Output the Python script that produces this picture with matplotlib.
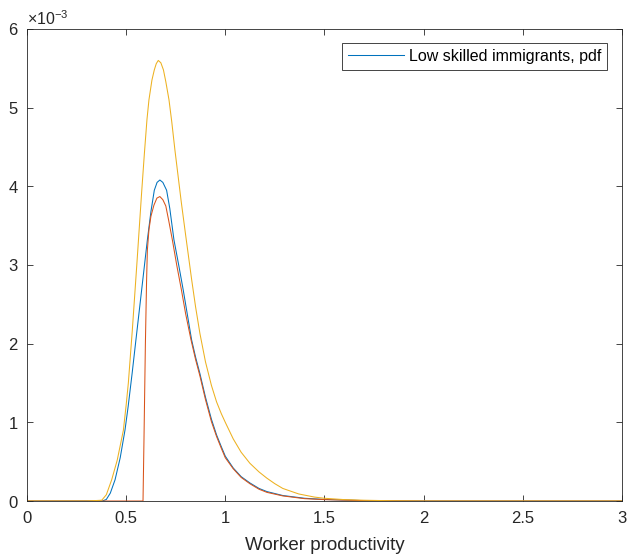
import matplotlib
matplotlib.use("Agg")
from matplotlib import pyplot as plt

plt.rcParams['font.family'] = ['Liberation Sans', 'DejaVu Sans']
plt.rcParams['mathtext.fontset'] = 'custom'
plt.rcParams['mathtext.rm'] = 'Liberation Sans'
plt.rcParams['mathtext.it'] = 'Liberation Sans'

# worker productivity and densities (units of 1e-3)
x_low = [0.0, 0.30, 0.38, 0.40, 0.42, 0.444, 0.47, 0.494, 0.51, 0.53, 0.548, 0.578,
         0.607, 0.625, 0.642, 0.656, 0.67, 0.685, 0.704, 0.72, 0.741, 0.765, 0.788,
         0.81, 0.83, 0.85, 0.872, 0.90, 0.93, 0.956, 0.98, 1.0, 1.04, 1.08, 1.124,
         1.17, 1.21, 1.29, 1.40, 1.5, 1.7, 2.0, 3.0]
y_low = [0.0, 0.0, 0.0, 0.02, 0.10, 0.27, 0.55, 0.90, 1.20, 1.62, 2.02, 2.68,
         3.32, 3.68, 3.95, 4.05, 4.08, 4.05, 3.95, 3.72, 3.32, 3.00, 2.68,
         2.35, 2.05, 1.83, 1.62, 1.32, 1.04, 0.84, 0.69, 0.57, 0.42, 0.31, 0.23,
         0.16, 0.12, 0.07, 0.035, 0.02, 0.005, 0.0, 0.0]

x_red = [0.0, 0.585, 0.59, 0.597, 0.603, 0.607, 0.615, 0.625, 0.64, 0.655, 0.67,
         0.685, 0.70, 0.715, 0.733, 0.755, 0.779, 0.80, 0.827, 0.85, 0.872, 0.90,
         0.93, 0.956, 0.98, 1.0, 1.04, 1.08, 1.124, 1.17, 1.21, 1.29, 1.4, 1.5,
         1.7, 2.0, 3.0]
y_red = [0.0, 0.0, 0.8, 2.0, 2.8, 3.19, 3.45, 3.62, 3.76, 3.85, 3.87,
         3.83, 3.75, 3.56, 3.32, 3.00, 2.68, 2.38, 2.05, 1.80, 1.59, 1.29,
         1.01, 0.82, 0.67, 0.55, 0.41, 0.30, 0.22, 0.15, 0.11, 0.065, 0.03, 0.018,
         0.005, 0.0, 0.0]

x_yel = [0.0, 0.30, 0.377, 0.40, 0.427, 0.455, 0.486, 0.50, 0.511, 0.531, 0.555,
         0.578, 0.592, 0.605, 0.615, 0.63, 0.642, 0.652, 0.662, 0.675, 0.688, 0.70,
         0.716, 0.73, 0.746, 0.762, 0.778, 0.80, 0.83, 0.85, 0.872, 0.90, 0.93,
         0.956, 0.98, 1.0, 1.04, 1.08, 1.124, 1.17, 1.21, 1.25, 1.29, 1.37, 1.45,
         1.5, 1.6, 1.7, 1.85, 2.0, 3.0]
y_yel = [0.0, 0.0, 0.01, 0.08, 0.27, 0.52, 0.90, 1.22, 1.50, 2.17, 3.05,
         3.92, 4.42, 4.85, 5.10, 5.35, 5.48, 5.56, 5.60, 5.57, 5.48, 5.33,
         5.10, 4.82, 4.46, 4.13, 3.80, 3.38, 2.82, 2.47, 2.13, 1.77, 1.47,
         1.26, 1.11, 1.00, 0.79, 0.62, 0.48, 0.37, 0.29, 0.22, 0.16, 0.09, 0.05,
         0.035, 0.018, 0.01, 0.003, 0.0, 0.0]

fig = plt.figure(figsize=(6.3, 5.57), dpi=100)
ax = fig.add_axes([0.0429, 0.1005, 0.9441, 0.8475])

ax.plot(x_low, [v * 1e-3 for v in y_low], color='#0072BD', lw=0.75,
        label='Low skilled immigrants, pdf')
ax.plot(x_red, [v * 1e-3 for v in y_red], color='#D95319', lw=0.75, label='_nolegend_')
ax.plot(x_yel, [v * 1e-3 for v in y_yel], color='#EDB120', lw=0.75, label='_nolegend_')

ax.set_xlim(0, 3)
ax.set_ylim(0, 6e-3)
ax.set_xticks([0, 0.5, 1, 1.5, 2, 2.5, 3])
ax.set_xticklabels(['0', '0.5', '1', '1.5', '2', '2.5', '3'])
ax.set_yticks([0, 1e-3, 2e-3, 3e-3, 4e-3, 5e-3, 6e-3])
ax.ticklabel_format(axis='y', style='sci', scilimits=(-3, -3), useMathText=True)
ax.tick_params(direction='in', top=True, right=True, length=4, width=0.6,
               labelsize=12, colors='#262626')
ax.tick_params(axis='y', pad=6)
ax.tick_params(axis='x', pad=7)
for s in ax.spines.values():
    s.set_linewidth(0.6)
    s.set_color('#262626')
ax.yaxis.get_offset_text().set_fontsize(11.5)
ax.yaxis.get_offset_text().set_color('#262626')

ax.set_xlabel('Worker productivity', fontsize=13.5, color='#262626', labelpad=8)

leg = ax.legend(loc='upper right', fontsize=11.5, fancybox=False, framealpha=1,
                edgecolor='#262626', borderaxespad=0.9, handlelength=3.5,
                handletextpad=0.35, borderpad=0.35)
leg.get_frame().set_linewidth(0.6)

fig.savefig('out.png', dpi=100)
